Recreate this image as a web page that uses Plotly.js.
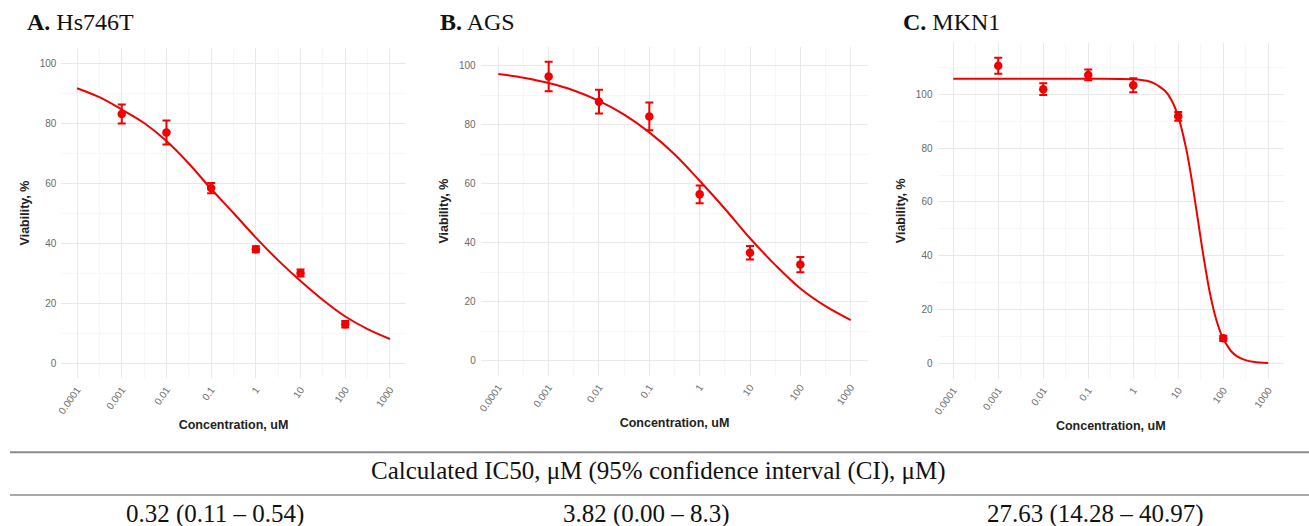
<!DOCTYPE html>
<html>
<head>
<meta charset="utf-8">
<script src="https://cdn.plot.ly/plotly-3.0.1.min.js"></script>
<style>html,body{margin:0;padding:0;background:#fff;}#chart{width:1309px;height:526px;}</style>
</head>
<body>
<div id="chart"></div>
<script>
// ---------- data ----------
const concentrations = [0.001, 0.01, 0.1, 1, 10, 100];
const tickValues = [0.0001, 0.001, 0.01, 0.1, 1, 10, 100, 1000];
const tickLabels = ['0.0001', '0.001', '0.01', '0.1', '1', '10', '100', '1000'];
const minorTickValues = [0.0003162, 0.003162, 0.03162, 0.3162, 3.162, 31.62, 316.2];

// Panel A: Hs746T
const hsMean = [83, 76.8, 58.3, 37.9, 30, 12.9];
const hsErr = [3.2, 4, 1.7, 1, 1.2, 1.1];
const hsCurveX = [0.0001, 0.0003162, 0.001, 0.003162, 0.01, 0.03162, 0.1, 0.3162, 1, 3.162, 10, 31.62, 100, 316.2, 1000];
const hsCurveY = [91.6, 88.6, 84.5, 80, 74, 66.5, 58, 50, 41.8, 34.2, 27.3, 21, 15.5, 11.3, 8];

// Panel B: AGS
const agsMean = [96.3, 87.8, 82.8, 56.4, 36.6, 32.6];
const agsErr = [5, 4, 4.7, 3, 2.3, 2.6];
const agsCurveX = [0.0001, 0.0003162, 0.001, 0.003162, 0.01, 0.03162, 0.1, 0.3162, 1, 3.162, 10, 31.62, 100, 316.2, 1000];
const agsCurveY = [97.2, 95.9, 94.1, 91.6, 88.1, 83.4, 77.4, 70, 61, 51.5, 41.5, 32.5, 24.5, 18.5, 13.8];

// Panel C: MKN1
const mknMean = [110.6, 101.9, 107.2, 103.4, 91.8, 9.3];
const mknErr = [3, 2.2, 2, 2.6, 1.6, 1];
const mknCurveX = [0.0001, 0.001, 0.01, 0.1, 0.5, 1, 2, 3, 5, 7, 10, 15, 20, 27.6, 35, 50, 70, 100, 150, 200, 300, 500, 1000];
const mknCurveY = [105.8, 105.8, 105.8, 105.8, 105.7, 105.6, 105, 104, 101.4, 98, 91.7, 79.8, 68.1, 52.9, 41.5, 26.5, 16.2, 9.1, 4.5, 2.7, 1.3, 0.5, 0.14];

// Titles and table text
const panelTitles = ['<b>A.</b> Hs746T', '<b>B.</b> AGS', '<b>C.</b> MKN1'];
const tableHeader = 'Calculated IC50, μM (95% confidence interval (CI), μM)';
const tableValues = ['0.32 (0.11 – 0.54)', '3.82 (0.00 – 8.3)', '27.63 (14.28 – 40.97)'];

// ---------- layout helpers ----------
const W = 1309, H = 526;
const px = v => v / W;
const py = v => 1 - v / H;
const RED = '#f20000';
const sans = 'Liberation Sans, Arial, sans-serif';
const serif = 'Liberation Serif, Times New Roman, serif';

const panels = [
  {mean: hsMean, err: hsErr, cx: hsCurveX, cy: hsCurveY, xd: [61.4, 405.6], yd: [48, 378], yr: [-5, 105], smooth: 1},
  {mean: agsMean, err: agsErr, cx: agsCurveX, cy: agsCurveY, xd: [480.7, 868.3], yd: [46.5, 375.7], yr: [-5.07, 106.5], smooth: 1},
  {mean: mknMean, err: mknErr, cx: mknCurveX, cy: mknCurveY, xd: [937.5, 1284], yd: [42.9, 378.6], yr: [-5.67, 119.1], smooth: 0.5}
];

const data = [];
const layout = {
  width: W, height: H,
  margin: {l: 0, r: 0, t: 0, b: 0},
  paper_bgcolor: '#fff', plot_bgcolor: '#fff',
  showlegend: false,
  annotations: [], shapes: []
};

panels.forEach((p, i) => {
  const sfx = i === 0 ? '' : String(i + 1);
  data.push({
    type: 'scatter', mode: 'lines', x: p.cx, y: p.cy,
    xaxis: 'x' + sfx, yaxis: 'y' + sfx,
    line: {color: RED, width: 2, shape: 'spline', smoothing: p.smooth},
    hoverinfo: 'skip'
  });
  data.push({
    type: 'scatter', mode: 'markers', x: concentrations, y: p.mean,
    xaxis: 'x' + sfx, yaxis: 'y' + sfx,
    marker: {color: RED, size: 8.5},
    error_y: {type: 'data', array: p.err, visible: true, color: RED, thickness: 2, width: 4}
  });
  layout['xaxis' + sfx] = {
    type: 'log', domain: [px(p.xd[0]), px(p.xd[1])], range: [-4.35, 3.35],
    anchor: 'y' + sfx,
    tickmode: 'array', tickvals: tickValues, ticktext: tickLabels,
    tickangle: -55, ticks: '', ticklabelstandoff: 3,
    tickfont: {family: sans, size: 10, color: '#6a6a6a'},
    showgrid: true, gridcolor: '#e9e9e9', gridwidth: 1,
    minor: {tickmode: 'array', tickvals: minorTickValues, showgrid: true, gridcolor: '#f4f4f4', gridwidth: 0.7, ticks: ''},
    zeroline: false, showline: false, fixedrange: true,
    title: {text: '<b>Concentration, uM</b>', font: {family: sans, size: 12.5, color: '#222'}, standoff: 5}
  };
  layout['yaxis' + sfx] = {
    domain: [py(p.yd[1]), py(p.yd[0])], range: p.yr,
    anchor: 'x' + sfx,
    tickmode: 'linear', tick0: 0, dtick: 20, ticks: '', ticklabelstandoff: 4,
    tickfont: {family: sans, size: 10, color: '#6a6a6a'},
    showgrid: true, gridcolor: '#e9e9e9', gridwidth: 1,
    minor: {dtick: 10, tick0: 0, showgrid: true, gridcolor: '#f4f4f4', gridwidth: 0.7, ticks: ''},
    zeroline: false, showline: false, fixedrange: true,
    title: {text: '<b>Viability, %</b>', font: {family: sans, size: 12.5, color: '#222'}, standoff: 7}
  };
});

// panel titles
const titleX = [25, 438, 901];
panelTitles.forEach((t, i) => {
  layout.annotations.push({
    text: t, xref: 'paper', yref: 'paper', x: px(titleX[i]), y: py(22),
    xanchor: 'left', yanchor: 'middle', showarrow: false,
    font: {family: serif, size: 24, color: '#111'}
  });
});

// table
layout.shapes.push({type: 'line', xref: 'paper', yref: 'paper', x0: px(10), x1: 1, y0: py(452.3), y1: py(452.3), line: {color: '#8c8c8c', width: 2}});
layout.shapes.push({type: 'line', xref: 'paper', yref: 'paper', x0: px(10), x1: 1, y0: py(495), y1: py(495), line: {color: '#8c8c8c', width: 1.5}});
layout.annotations.push({
  text: tableHeader, xref: 'paper', yref: 'paper', x: px(658), y: py(471),
  xanchor: 'center', yanchor: 'middle', showarrow: false,
  font: {family: serif, size: 25, color: '#111'}
});
const valueX = [215, 646, 1095];
tableValues.forEach((t, i) => {
  layout.annotations.push({
    text: t, xref: 'paper', yref: 'paper', x: px(valueX[i]), y: py(514),
    xanchor: 'center', yanchor: 'middle', showarrow: false,
    font: {family: serif, size: 25, color: '#111'}
  });
});

Plotly.newPlot('chart', data, layout, {displayModeBar: false, staticPlot: true});
</script>
</body>
</html>
